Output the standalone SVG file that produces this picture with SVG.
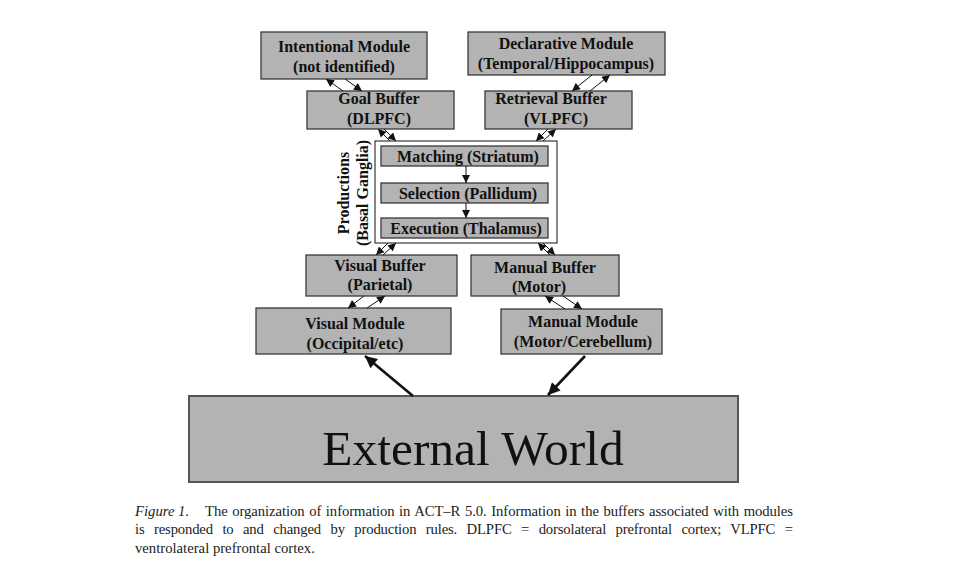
<svg xmlns="http://www.w3.org/2000/svg" width="979" height="573" viewBox="0 0 979 573">
<style>
.box{fill:#b3b3b3;stroke:#3a3a3a;stroke-width:1.3}
.t{font-family:"Liberation Serif",serif;font-weight:bold;font-size:16px;fill:#111;text-anchor:middle}
.ln{stroke:#111;stroke-width:1;fill:none;marker-end:url(#ah)}
.thick{stroke:#111;stroke-width:2.6;fill:none;marker-end:url(#ahb)}
.cap{font-family:"Liberation Serif",serif;font-size:14.7px;fill:#222}
</style>
<defs>
<marker id="ah" viewBox="0 0 10 10" refX="10" refY="5" markerWidth="9" markerHeight="8" markerUnits="userSpaceOnUse" orient="auto"><path d="M0,0L10,5L0,10z" fill="#111"/></marker>
<marker id="ahb" viewBox="0 0 10 10" refX="10" refY="5" markerWidth="15" markerHeight="12" markerUnits="userSpaceOnUse" orient="auto"><path d="M0,0L10,5L0,10z" fill="#111"/></marker>
</defs>
<rect width="979" height="573" fill="#fff"/>
<g id="intentional"><rect class="box" x="261" y="32" width="166" height="47"/><text class="t" x="344" y="52">Intentional Module</text><text class="t" x="344" y="72">(not identified)</text></g>
<g id="declarative"><rect class="box" x="468" y="32" width="197" height="43"/><text class="t" x="566" y="49">Declarative Module</text><text class="t" x="566" y="69">(Temporal/Hippocampus)</text></g>
<g id="goal"><rect class="box" x="307" y="91" width="147" height="38"/><text class="t" x="379" y="104">Goal Buffer</text><text class="t" x="379" y="124">(DLPFC)</text></g>
<g id="retrieval"><rect class="box" x="485" y="91" width="147" height="38"/><text class="t" x="551" y="104">Retrieval Buffer</text><text class="t" x="556" y="124">(VLPFC)</text></g>
<g id="productions"><rect x="375" y="141" width="182" height="102" fill="#fff" stroke="#111" stroke-width="1"/>
<text class="t" transform="translate(349,193) rotate(-90)">Productions</text>
<text class="t" transform="translate(368,193) rotate(-90)">(Basal Ganglia)</text></g>
<g id="matching"><rect class="box" x="381" y="146" width="167" height="20"/><text class="t" x="468" y="162">Matching (Striatum)</text></g>
<g id="selection"><rect class="box" x="381" y="183" width="167" height="20"/><text class="t" x="468" y="199">Selection (Pallidum)</text></g>
<g id="execution"><rect class="box" x="381" y="218" width="167" height="20"/><text class="t" x="466" y="234">Execution (Thalamus)</text></g>
<g id="visualbuffer"><rect class="box" x="306" y="255" width="151" height="41"/><text class="t" x="380" y="271">Visual Buffer</text><text class="t" x="380" y="290">(Parietal)</text></g>
<g id="manualbuffer"><rect class="box" x="471" y="255" width="148" height="41"/><text class="t" x="545" y="273">Manual Buffer</text><text class="t" x="539" y="292">(Motor)</text></g>
<g id="visualmodule"><rect class="box" x="256" y="308" width="195" height="46"/><text class="t" x="355" y="329">Visual Module</text><text class="t" x="355" y="349">(Occipital/etc)</text></g>
<g id="manualmodule"><rect class="box" x="501" y="309" width="161" height="45"/><text class="t" x="583" y="327">Manual Module</text><text class="t" x="583" y="347">(Motor/Cerebellum)</text></g>
<g id="external"><rect x="189" y="396" width="549" height="86" fill="#b3b3b3" stroke="#555" stroke-width="2"/><text x="473" y="465" font-family="Liberation Serif,serif" font-size="49.5" fill="#111" text-anchor="middle">External World</text></g>
<g id="connectors">
<line class="ln" x1="343" y1="91" x2="326" y2="79"/>
<line class="ln" x1="345" y1="79" x2="362" y2="91"/>
<line class="ln" x1="592" y1="75" x2="572" y2="91"/>
<line class="ln" x1="590" y1="91" x2="610" y2="75"/>
<line class="ln" x1="390" y1="141" x2="378" y2="129"/>
<line class="ln" x1="384" y1="129" x2="396" y2="141"/>
<line class="ln" x1="548" y1="129" x2="536" y2="141"/>
<line class="ln" x1="543" y1="141" x2="556" y2="129"/>
<line class="ln" x1="388" y1="243" x2="376" y2="255"/>
<line class="ln" x1="383" y1="255" x2="396" y2="243"/>
<line class="ln" x1="550" y1="255" x2="538" y2="243"/>
<line class="ln" x1="543" y1="243" x2="555" y2="255"/>
<line class="ln" x1="364" y1="296" x2="348" y2="308"/>
<line class="ln" x1="367" y1="308" x2="385" y2="296"/>
<line class="ln" x1="565" y1="309" x2="545" y2="296"/>
<line class="ln" x1="563" y1="296" x2="582" y2="309"/>
<line class="ln" x1="466" y1="166" x2="466" y2="183"/>
<line class="ln" x1="466" y1="203" x2="466" y2="218"/>
<line class="thick" x1="413" y1="396" x2="365" y2="356"/>
<line class="thick" x1="585" y1="356" x2="548" y2="395"/>
</g>
<g id="caption">
<text class="cap" x="135" y="516" font-style="italic">Figure 1.</text>
<text class="cap" x="205" y="516" word-spacing="1" textLength="588" lengthAdjust="spacing">The organization of information in ACT–R 5.0. Information in the buffers associated with modules</text>
<text class="cap" x="135" y="534" word-spacing="6" textLength="658" lengthAdjust="spacing">is responded to and changed by production rules. DLPFC = dorsolateral prefrontal cortex; VLPFC =</text>
<text class="cap" x="135" y="553">ventrolateral prefrontal cortex.</text>
</g>
</svg>
